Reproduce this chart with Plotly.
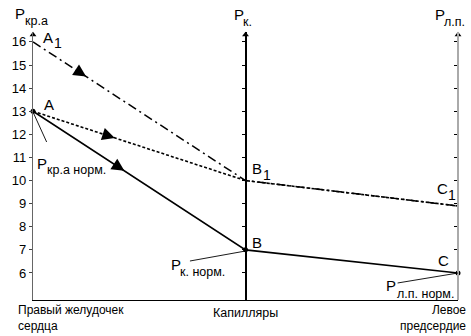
import plotly.graph_objects as go

# ---- data ----
stations = [0, 1, 2]  # Правый желудочек, Капилляры, Левое предсердие
station_labels = ["Правый желудочек<br>сердца", "Капилляры", "Левое<br>предсердие"]
normal_pressure = [13, 7, 6]          # A -> B -> C (solid)
raised_a = [13, 10, 8.9]              # A -> B1 -> C1 (dotted)
raised_a1 = [16, 10, 8.9]             # A1 -> B1 -> C1 (dash-dot)
y_ticks = [6, 7, 8, 9, 10, 11, 12, 13, 14, 15, 16]

# arrow positions along each first segment (fraction)
arrow_pos = {"solid": 0.43, "dot": 0.385, "dashdot": 0.25}

W, H = 471, 336
L, R, T, B = 22, 13, 32, 36
YMIN, YMAX = 4.83, 16.43
FONT = "Liberation Sans"


def pp(px, py):
    """pixel -> paper coordinates"""
    return (px - L) / (W - L - R), (H - B - py) / (H - T - B)


fig = go.Figure()

# lines
fig.add_trace(go.Scatter(x=stations, y=raised_a1, mode="lines",
                         line=dict(color="black", width=1.5, dash="9px,4px,2px,4px"),
                         hoverinfo="skip"))
fig.add_trace(go.Scatter(x=stations, y=raised_a, mode="lines",
                         line=dict(color="black", width=1.6, dash="3px,2px"),
                         hoverinfo="skip"))
fig.add_trace(go.Scatter(x=stations, y=normal_pressure, mode="lines+markers",
                         line=dict(color="black", width=1.6),
                         marker=dict(size=5, color="black"),
                         hoverinfo="skip", cliponaxis=False))

# top arrow tips of the three vertical axes
fig.add_trace(go.Scatter(x=stations, y=[YMAX - 0.12] * 3, mode="markers",
                         marker=dict(symbol="triangle-up", size=6, color="black"),
                         cliponaxis=False, hoverinfo="skip"))

# direction arrowheads on lines
for series, key in [(normal_pressure, "solid"), (raised_a, "dot"), (raised_a1, "dashdot")]:
    f = arrow_pos[key]
    x1 = stations[0] + f * (stations[1] - stations[0])
    y1 = series[0] + f * (series[1] - series[0])
    x0 = x1 - 0.05
    y0 = series[0] + (x0 - stations[0]) * (series[1] - series[0])
    fig.add_annotation(x=x1, y=y1, ax=x0, ay=y0, xref="x", yref="y",
                       axref="x", ayref="y", text="", showarrow=True,
                       arrowhead=2, arrowsize=2.1, arrowwidth=1.2,
                       arrowcolor="black", standoff=0, startstandoff=0)


# leader lines
def leader(p0, p1):
    a = pp(*p0)
    b = pp(*p1)
    fig.add_shape(type="line", xref="paper", yref="paper",
                  x0=a[0], y0=a[1], x1=b[0], y1=b[1],
                  line=dict(color="black", width=0.9))


leader((22, 112), (36, 142))
leader((240, 251), (183, 261))
leader((458, 273), (396, 283))


# text labels (px, py = left edge / vertical centre in pixels)
def label(text, px, py, xanchor="left", size=14.5, align="left"):
    x, y = pp(px, py)
    fig.add_annotation(x=x, y=y, xref="paper", yref="paper", text=text,
                       showarrow=False, xanchor=xanchor, yanchor="middle",
                       align=align, borderpad=0,
                       font=dict(family=FONT, size=size, color="black"))


def sublabel(main, sub, px, py, sub_dx, sub_dy, size=15, sub_size=12.5):
    label(main, px, py, size=size)
    label(sub, px + sub_dx, py + sub_dy, size=sub_size)


sublabel("P", "кр.а", 3, 14, 10, 7)
sublabel("A", "1", 31, 38, 12, 5, size=15, sub_size=14)
label("A", 32, 104, size=15)
sublabel("P", "кр.а норм.", 25, 163, 10, 7)
sublabel("P", "к.", 227, 15, 9, 7)
sublabel("B", "1", 246, 168, 11, 7, size=15, sub_size=14)
label("B", 246, 242, size=15)
sublabel("P", "к. норм.", 163, 264, 9, 8)
sublabel("P", "л.п.", 433, 15, 10, 7)
sublabel("C", "1", 435, 188, 12, 7, size=15, sub_size=14)
label("C", 436, 260, size=15)
sublabel("P", "л.п. норм.", 383, 285, 11, 9)

label(station_labels[0], 6, 318, size=12)
label(station_labels[1], 240, 313, xanchor="center", size=12.5)
label(station_labels[2], 467, 318, xanchor="right", size=12, align="right")

fig.update_layout(
    width=W, height=H, margin=dict(l=L, r=R, t=T, b=B),
    paper_bgcolor="white", plot_bgcolor="white", showlegend=False,
    xaxis=dict(range=[0, 2], showgrid=False, zeroline=False, showticklabels=False,
               ticks="", showline=True, linecolor="black", linewidth=1.2),
    yaxis=dict(range=[YMIN, YMAX], tickvals=y_ticks, ticks="outside", ticklen=3,
               tickcolor="#444", showgrid=False, zeroline=False, showline=True,
               linecolor="#666", linewidth=1.2,
               tickfont=dict(family=FONT, size=13, color="black")),
    yaxis2=dict(range=[YMIN, YMAX], tickvals=y_ticks, ticks="outside", ticklen=3,
                tickcolor="black", showticklabels=False, showgrid=False,
                zeroline=False, showline=True, linecolor="black", linewidth=1.5,
                overlaying="y", anchor="free", position=0.5, side="left"),
    yaxis3=dict(range=[YMIN, YMAX], tickvals=y_ticks, ticks="outside", ticklen=3,
                tickcolor="black", showticklabels=False, showgrid=False,
                zeroline=False, showline=True, linecolor="#aaa", linewidth=2,
                overlaying="y", anchor="free", position=1.0, side="left"),
)
# dummy traces to activate the extra axes
fig.add_trace(go.Scatter(x=[None], y=[None], yaxis="y2", hoverinfo="skip"))
fig.add_trace(go.Scatter(x=[None], y=[None], yaxis="y3", hoverinfo="skip"))

fig.write_html("out.html")
